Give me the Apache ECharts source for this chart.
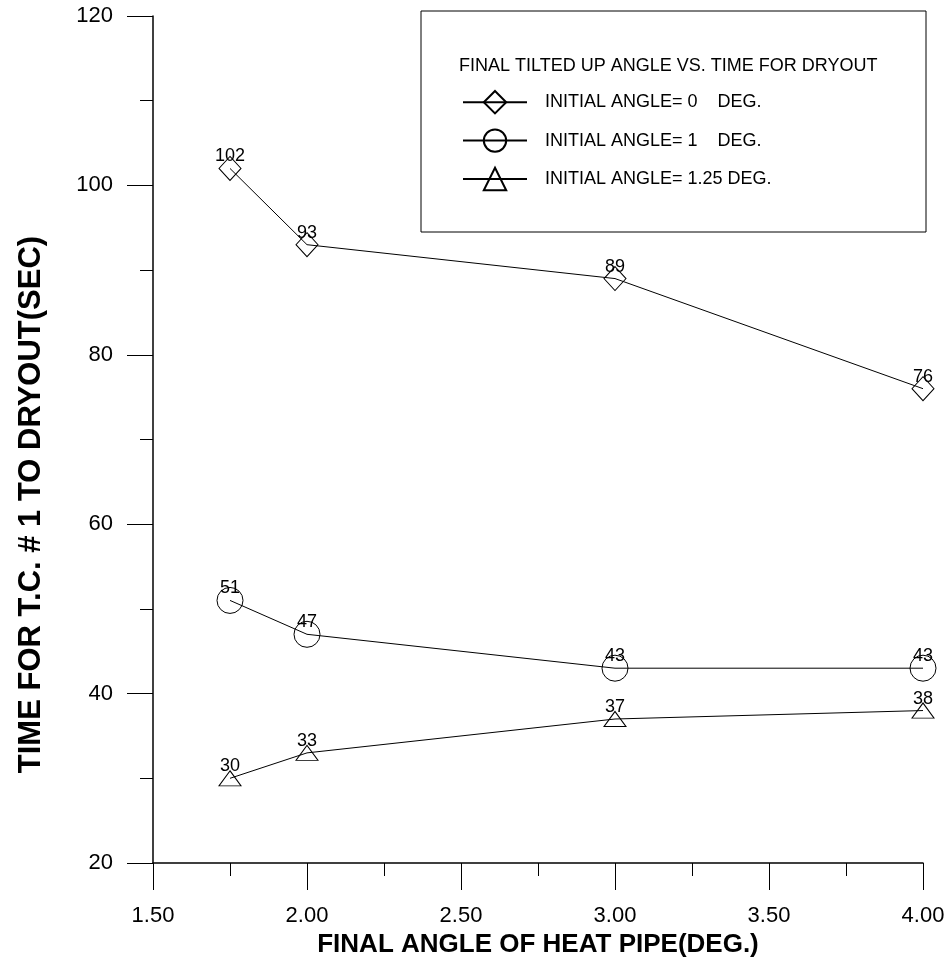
<!DOCTYPE html>
<html>
<head>
<meta charset="utf-8">
<script src="https://cdn.jsdelivr.net/npm/echarts@6/dist/echarts.min.js"></script>
<style>
  html, body { margin: 0; padding: 0; background: #fff; }
  #chart { width: 951px; height: 967px; }
</style>
</head>
<body>
<div id="chart"></div>
<script>
// final tilted up angle (deg) on the x axis
const finalAngles = [1.75, 2.0, 3.0, 4.0];

// time for T.C. #1 to dryout (sec), one list per initial angle
const timeInit0 = [102, 93, 89, 76];
const timeInit1 = [51, 47, 43, 43];
const timeInit125 = [30, 33, 37, 38];

const seriesNames = [
  'INITIAL ANGLE= 0    DEG.',
  'INITIAL ANGLE= 1    DEG.',
  'INITIAL ANGLE= 1.25 DEG.'
];

const chart = echarts.init(document.getElementById('chart'));
const font = "'Liberation Sans', Arial, sans-serif";

const pairs = (ys) => finalAngles.map((x, i) => [x, ys[i]]);

const makeSeries = (name, ys, symbol, size) => ({
  name: name,
  type: 'line',
  data: pairs(ys),
  symbol: symbol,
  symbolSize: size,
  lineStyle: { color: '#000', width: 1 },
  itemStyle: { color: 'rgba(0,0,0,0)', borderColor: '#000', borderWidth: 1 },
  label: {
    show: true,
    position: 'inside',
    offset: [0, -12],
    color: '#000',
    fontSize: 18,
    fontFamily: font,
    formatter: (p) => p.value[1]
  },
  emphasis: { disabled: true }
});

const option = {
  animation: false,
  backgroundColor: '#fff',
  title: {
    text: 'FINAL TILTED UP ANGLE VS. TIME FOR DRYOUT',
    left: 459,
    top: 57,
    padding: 0,
    textStyle: { fontSize: 18, fontWeight: 'normal', color: '#000', fontFamily: font }
  },
  legend: {
    orient: 'vertical',
    left: 462,
    top: 90,
    padding: 0,
    itemWidth: 64,
    itemHeight: 28,
    itemGap: 14,
    textStyle: { fontSize: 18, color: '#000', fontFamily: font, padding: [0, 0, 0, 13] },
    data: seriesNames
  },
  graphic: [{
    type: 'rect',
    shape: { x: 421, y: 11, width: 505, height: 221 },
    style: { fill: 'none', stroke: '#000', lineWidth: 1 }
  }],
  grid: { left: 153, right: 28, top: 16, bottom: 104 },
  xAxis: {
    type: 'value',
    min: 1.5,
    max: 4,
    interval: 0.5,
    name: 'FINAL ANGLE OF HEAT PIPE(DEG.)',
    nameLocation: 'middle',
    nameGap: 67,
    nameTextStyle: { fontSize: 26, fontWeight: 'bold', color: '#000', fontFamily: font },
    axisLine: { lineStyle: { color: '#000', width: 1.5 } },
    axisTick: { length: 27, lineStyle: { color: '#000', width: 1 } },
    minorTick: { show: true, splitNumber: 2, length: 13, lineStyle: { color: '#000', width: 1 } },
    splitLine: { show: false },
    axisLabel: {
      margin: 42,
      fontSize: 22,
      color: '#000',
      fontFamily: font,
      formatter: (v) => v.toFixed(2)
    }
  },
  yAxis: {
    type: 'value',
    min: 20,
    max: 120,
    interval: 20,
    name: 'TIME FOR T.C. # 1 TO DRYOUT(SEC)',
    nameLocation: 'middle',
    nameGap: 106,
    nameTextStyle: {
      fontSize: 31, fontWeight: 'bold', color: '#000', fontFamily: font,
      padding: [0, 130, 0, 0]
    },
    axisLine: { show: true, lineStyle: { color: '#000', width: 1.5 } },
    axisTick: { show: true, length: 26, lineStyle: { color: '#000', width: 1 } },
    minorTick: { show: true, splitNumber: 2, length: 13, lineStyle: { color: '#000', width: 1 } },
    splitLine: { show: false },
    axisLabel: { margin: 40, fontSize: 22, color: '#000', fontFamily: font }
  },
  series: [
    makeSeries(seriesNames[0], timeInit0, 'diamond', [22, 24]),
    makeSeries(seriesNames[1], timeInit1, 'circle', 26),
    makeSeries(seriesNames[2], timeInit125, 'triangle', [22, 15])
  ]
};

chart.setOption(option);
</script>
</body>
</html>
